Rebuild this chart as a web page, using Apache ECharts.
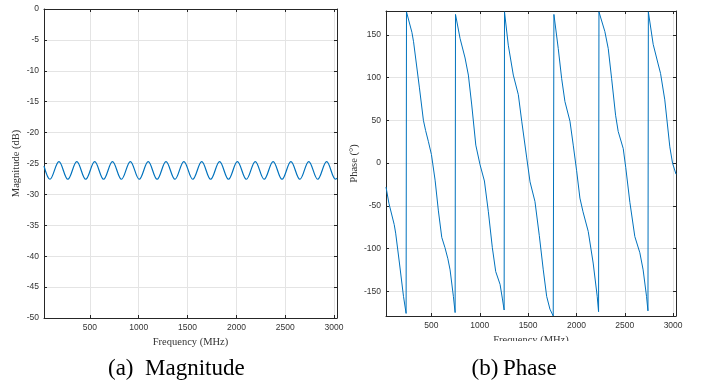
<!DOCTYPE html>
<html>
<head>
<meta charset="utf-8">
<script src="https://cdn.jsdelivr.net/npm/echarts@6/dist/echarts.min.js"></script>
<style>
html,body{margin:0;padding:0;background:#fff;}
#c{width:702px;height:387px;}
</style>
</head>
<body>
<div id="c"></div>
<script>
// Magnitude response: frequency (MHz) at start, troughs and peaks, and magnitude (dB)
const magFreq = [30, 91, 183, 274, 366, 457, 549, 640, 731, 823, 914, 1005, 1097, 1188, 1279, 1371, 1462, 1553, 1645, 1736, 1828, 1919, 2010, 2102, 2193, 2284, 2376, 2467, 2558, 2650, 2741, 2832, 2924, 3015, 3030];
const magDb = [-25.4, -27.55, -24.7, -27.55, -24.7, -27.55, -24.7, -27.55, -24.7, -27.55, -24.7, -27.55, -24.7, -27.55, -24.7, -27.55, -24.7, -27.55, -24.7, -27.55, -24.7, -27.55, -24.7, -27.55, -24.7, -27.55, -24.7, -27.55, -24.7, -27.55, -24.7, -27.55, -24.7, -27.55, -27.4];

// Phase response: frequency (MHz) and phase (degrees)
const phaseFreq = [
  30, 60, 115, 130, 169, 211, 238,
  242, 298, 315, 376, 417, 440, 469, 500, 538, 572, 607, 640, 670, 693, 727, 745,
  749, 796, 848, 882, 917, 959, 1003, 1048, 1089, 1130, 1165, 1210, 1233, 1252,
  1256, 1295, 1347, 1399, 1434, 1486, 1520, 1571, 1616, 1657, 1692, 1726, 1760,
  1767, 1812, 1847, 1881, 1933, 1967, 2002, 2036, 2068, 2122, 2173, 2215, 2229,
  2233, 2294, 2329, 2364, 2405, 2432, 2484, 2510, 2553, 2604, 2656, 2690, 2725, 2740,
  2744, 2794, 2845, 2870, 2914, 2966, 2994, 3030
];
const phaseDeg = [
  -28, -47, -72, -82, -117, -156, -176,
  177, 153, 142, 88, 50, 38, 25, 10, -20, -56, -87, -99, -112, -125, -156, -175,
  174, 146, 123, 103, 68, 21, -2, -21, -57, -99, -127, -142, -158, -172,
  177, 138, 103, 80, 49, 6, -22, -45, -85, -125, -156, -171, -179,
  174, 134, 99, 72, 49, 21, -9, -41, -57, -80, -117, -156, -174,
  177, 154, 134, 99, 56, 37, 17, -5, -46, -86, -105, -125, -156, -173,
  177, 139, 116, 105, 74, 19, 0, -13
];

const freqMin = 30, freqMax = 3030;
const magMin = -50, magMax = 0, magStep = 5;
const phaseMin = -179, phaseMax = 178;

const axisColor = '#262626';
const gridColor = '#e4e4e4';
const lineColor = '#0072BD';
const labelFont = { color: '#333', fontFamily: 'Liberation Sans, Arial, sans-serif', fontSize: 8.5, formatter: v => String(v) };
const nameFont = { color: '#333', fontFamily: 'Liberation Serif, Times New Roman, serif', fontSize: 10.5 };

function xAx(gridIndex, pos, main, nameText) {
  return {
    type: 'value', gridIndex, position: pos, min: freqMin, max: freqMax, splitNumber: 6,
    name: main ? nameText : '', nameLocation: 'middle', nameGap: 16, nameTextStyle: Object.assign({ verticalAlign: 'top' }, nameFont),
    axisLine: { show: true, onZero: false, lineStyle: { color: axisColor, width: 1 } },
    axisTick: { show: true, inside: true, length: 3, lineStyle: { color: axisColor } },
    axisLabel: Object.assign({ show: main, margin: 5, showMinLabel: false, showMaxLabel: false }, labelFont),
    splitLine: { show: main, lineStyle: { color: gridColor, width: 1 } }
  };
}
function yAx(gridIndex, pos, main, cfg) {
  return Object.assign({
    type: 'value', gridIndex, position: pos,
    nameLocation: 'middle', nameTextStyle: nameFont,
    axisLine: { show: true, onZero: false, lineStyle: { color: axisColor, width: 1 } },
    axisTick: { show: true, inside: true, length: 3, lineStyle: { color: axisColor } },
    axisLabel: Object.assign({ show: main, margin: 5, showMinLabel: true, showMaxLabel: true }, labelFont),
    splitLine: { show: main, lineStyle: { color: gridColor, width: 1 } }
  }, cfg);
}

const chart = echarts.init(document.getElementById('c'), null, { renderer: 'canvas' });
chart.setOption({
  animation: false,
  backgroundColor: '#fff',
  grid: [
    { left: 44, top: 9, width: 293, height: 309, containLabel: false },
    { left: 386, top: 11, width: 290, height: 305, containLabel: false }
  ],
  xAxis: [
    xAx(0, 'bottom', true, 'Frequency (MHz)'),
    xAx(0, 'top', false, ''),
    xAx(1, 'bottom', true, 'Frequency (MHz)'),
    xAx(1, 'top', false, '')
  ],
  yAxis: [
    yAx(0, 'left', true, { min: magMin, max: magMax, interval: magStep, name: 'Magnitude (dB)', nameGap: 22 }),
    yAx(0, 'right', false, { min: magMin, max: magMax, interval: magStep }),
    yAx(1, 'left', true, { min: phaseMin, max: phaseMax, splitNumber: 7, name: 'Phase (°)', nameGap: 24,
      axisLabel: Object.assign({ show: true, margin: 5, showMinLabel: false, showMaxLabel: false }, labelFont) }),
    yAx(1, 'right', false, { min: phaseMin, max: phaseMax, splitNumber: 7 })
  ],
  series: [
    {
      type: 'line', xAxisIndex: 0, yAxisIndex: 0, showSymbol: false, smooth: 0.36,
      lineStyle: { color: lineColor, width: 1.2 },
      data: magFreq.map((f, i) => [f, magDb[i]])
    },
    {
      type: 'line', xAxisIndex: 2, yAxisIndex: 2, showSymbol: false, smooth: false,
      lineStyle: { color: lineColor, width: 1 },
      data: phaseFreq.map((f, i) => [f, phaseDeg[i]])
    }
  ],
  graphic: [
    { type: 'rect', z: 100, shape: { x: 480, y: 341, width: 150, height: 12 }, style: { fill: '#fff' } },
    { type: 'text', z: 101, x: 108, y: 369, style: { text: '(a)', font: '23px "Liberation Serif", serif', fill: '#000', textVerticalAlign: 'middle' } },
    { type: 'text', z: 101, x: 145, y: 369, style: { text: 'Magnitude', font: '23px "Liberation Serif", serif', fill: '#000', textVerticalAlign: 'middle' } },
    { type: 'text', z: 101, x: 471.5, y: 369, style: { text: '(b)', font: '23px "Liberation Serif", serif', fill: '#000', textVerticalAlign: 'middle' } },
    { type: 'text', z: 101, x: 503, y: 369, style: { text: 'Phase', font: '23px "Liberation Serif", serif', fill: '#000', textVerticalAlign: 'middle' } }
  ]
});
</script>
</body>
</html>
